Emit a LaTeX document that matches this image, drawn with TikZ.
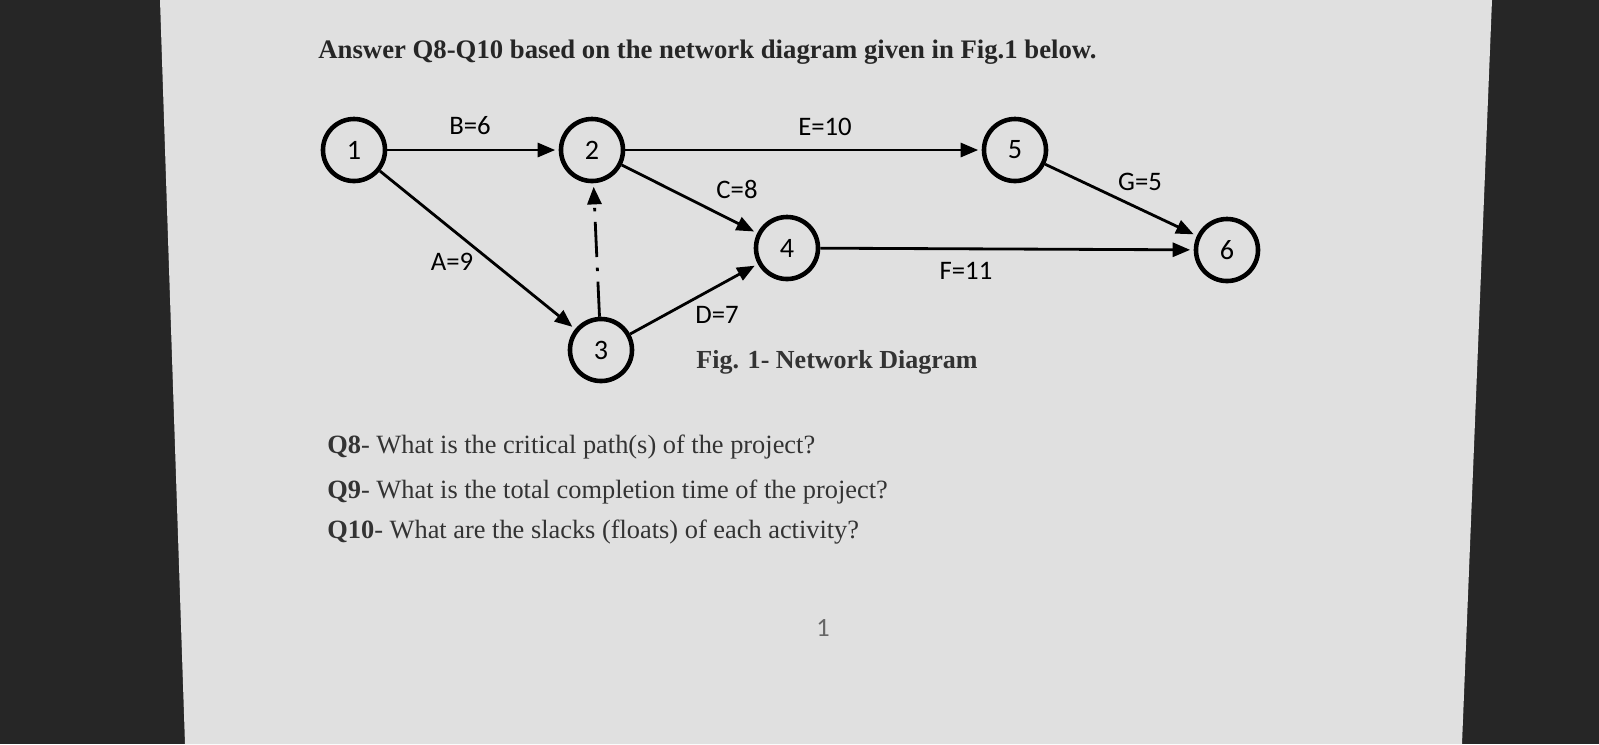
\documentclass[tikz,border=0pt]{standalone}
\usepackage{fontspec}
\setmainfont{Liberation Serif}
\newfontfamily\lbl{Carlito}
\usetikzlibrary{arrows.meta}
\begin{document}
\begin{tikzpicture}[x=0.01cm,y=-0.01cm,
  ev/.style={circle,draw,line width=1.3pt,minimum size=0.62cm,inner sep=0pt,font=\lbl\fontsize{8}{9}\selectfont},
  act/.style={line width=0.8pt,-{Triangle[length=5pt,width=4pt]},shorten >=1pt},
  lab/.style={font=\lbl\fontsize{7.6}{9}\selectfont},
  txt/.style={font=\fontsize{7.5}{9}\selectfont,anchor=west,text=black!80}]
\useasboundingbox (0,0) rectangle (1599,744);
\fill[black!85] (0,0) rectangle (1599,744);
\fill[black!12] (160,0) -- (1492,0) -- (1462,744) -- (185,744) -- cycle;
\node[ev] (n1) at (354,150) {1};
\node[ev] (n2) at (592,150) {2};
\node[ev] (n5) at (1015,150) {5};
\node[ev] (n4) at (787,248) {4};
\node[ev] (n6) at (1227,250) {6};
\node[ev] (n3) at (601,350) {3};
\draw[act] (n1) -- (n2);
\draw[act] (n1) -- (n3);
\draw[act] (n2) -- (n5);
\draw[act] (n2) -- (n4);
\draw[act] (n3) -- (n4);
\draw[act] (n4) -- (n6);
\draw[act] (n5) -- (n6);
\draw[act,dash pattern=on 10pt off 3pt on 1pt off 3pt] (n3) -- (n2);
\node[lab] (lb) at (470,126) {B=6};
\node[lab] (le) at (825,127) {E=10};
\node[lab] (lc) at (737,189) {C=8};
\node[lab] (lg) at (1140,182) {G=5};
\node[lab] (la) at (452,262) {A=9};
\node[lab] (lf) at (966,271) {F=11};
\node[lab] (ld) at (717,315) {D=7};
\node[font=\bfseries\fontsize{7.4}{9}\selectfont,text=black!80,anchor=west] (cap) at (684,362) {Fig. 1- Network Diagram};
\node[font=\bfseries\fontsize{7.6}{9}\selectfont,anchor=west,text=black!85] (title) at (306,52) {Answer Q8-Q10 based on the network diagram given in Fig.1 below.};
\node[txt] (q8) at (315,447) {\textbf{Q8}- What is the critical path(s) of the project?};
\node[txt] (q9) at (315,492) {\textbf{Q9}- What is the total completion time of the project?};
\node[txt] (q10) at (315,532) {\textbf{Q10}- What are the slacks (floats) of each activity?};
\node[font=\lbl\fontsize{7.5}{9}\selectfont,text=black!60] (pg) at (823,628) {1};
\end{tikzpicture}
\end{document}
